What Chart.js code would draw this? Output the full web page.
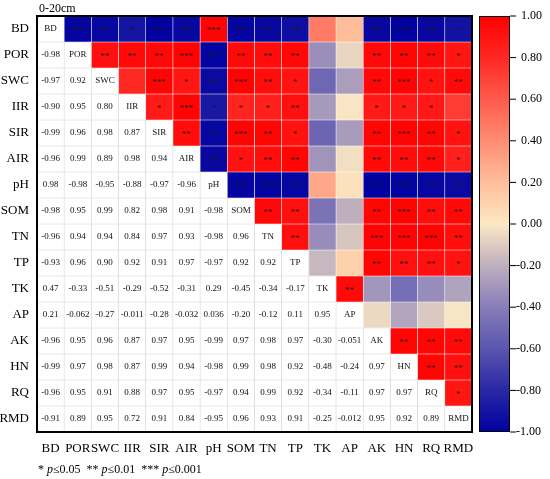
<!DOCTYPE html>
<html>
<head>
<meta charset="utf-8">
<script src="https://cdn.jsdelivr.net/npm/chart.js@4.4.1/dist/chart.umd.min.js"></script>
<style>
  html, body { margin: 0; padding: 0; background: #fff; }
  #wrap { width: 550px; height: 479px; }
</style>
</head>
<body>
<div id="wrap"><canvas id="corrChart" width="550" height="479"></canvas></div>
<script>
const vars = ['BD', 'POR', 'SWC', 'IIR', 'SIR', 'AIR', 'pH', 'SOM', 'TN', 'TP', 'TK', 'AP', 'AK', 'HN', 'RQ', 'RMD']

// lower triangle: row i holds r with columns 0..i-1
const lowerR = [
  [],
  [-0.98],
  [-0.97, 0.92],
  [-0.90, 0.95, 0.80],
  [-0.99, 0.96, 0.98, 0.87],
  [-0.96, 0.99, 0.89, 0.98, 0.94],
  [0.98, -0.98, -0.95, -0.88, -0.97, -0.96],
  [-0.98, 0.95, 0.99, 0.82, 0.98, 0.91, -0.98],
  [-0.96, 0.94, 0.94, 0.84, 0.97, 0.93, -0.98, 0.96],
  [-0.93, 0.96, 0.90, 0.92, 0.91, 0.97, -0.97, 0.92, 0.92],
  [0.47, -0.33, -0.51, -0.29, -0.52, -0.31, 0.29, -0.45, -0.34, -0.17],
  [0.21, -0.062, -0.27, -0.011, -0.28, -0.032, 0.036, -0.20, -0.12, 0.11, 0.95],
  [-0.96, 0.95, 0.96, 0.87, 0.97, 0.95, -0.99, 0.97, 0.98, 0.97, -0.30, -0.051],
  [-0.99, 0.97, 0.98, 0.87, 0.99, 0.94, -0.98, 0.99, 0.98, 0.92, -0.48, -0.24, 0.97],
  [-0.96, 0.95, 0.91, 0.88, 0.97, 0.95, -0.97, 0.94, 0.99, 0.92, -0.34, -0.11, 0.97, 0.97],
  [-0.91, 0.89, 0.95, 0.72, 0.91, 0.84, -0.95, 0.96, 0.93, 0.91, -0.25, -0.012, 0.95, 0.92, 0.89]
]

// upper triangle significance: row i holds columns i+1..15
const sigUpper = [
  ['***', '**', '*', '***', '**', '***', '***', '**', '**', '', '', '**', '***', '**', '*'],
  ['**', '**', '**', '***', '***', '**', '**', '**', '', '', '**', '**', '**', '*'],
  ['', '***', '*', '**', '***', '**', '*', '', '', '**', '***', '*', '**'],
  ['*', '***', '*', '*', '*', '**', '', '', '*', '*', '*', ''],
  ['**', '**', '***', '**', '*', '', '', '**', '***', '**', '*'],
  ['**', '*', '**', '**', '', '', '**', '**', '**', '*'],
  ['***', '***', '**', '', '', '***', '***', '**', '**'],
  ['**', '**', '', '', '**', '***', '**', '**'],
  ['**', '', '', '***', '***', '***', '**'],
  ['', '', '**', '**', '**', '*'],
  ['**', '', '', '', ''],
  ['', '', '', ''],
  ['**', '**', '**'],
  ['**', '**'],
  ['*'],
  []
]

const colorbarTicks = [1, 0.8, 0.6, 0.4, 0.2, 0, -0.2, -0.4, -0.6, -0.8, -1]

// colour ramp blue -> beige -> red
const rampStops = [
  [-1, [0, 0, 160]],
  [-0.8, [40, 40, 165]],
  [-0.6, [90, 85, 175]],
  [-0.4, [135, 125, 185]],
  [-0.2, [190, 175, 190]],
  [0, [252, 232, 195]],
  [0.2, [255, 190, 155]],
  [0.4, [255, 140, 115]],
  [0.6, [255, 90, 75]],
  [0.8, [255, 40, 35]],
  [1, [255, 0, 0]]
]

function rampColor(v) {
  for (let k = 1; k < rampStops.length; k++) {
    const [v0, c0] = rampStops[k - 1]
    const [v1, c1] = rampStops[k]
    if (v <= v1) {
      const t = (v - v0) / (v1 - v0)
      const c = c0.map((x, n) => Math.round(x + (c1[n] - x) * t))
      return `rgb(${c[0]},${c[1]},${c[2]})`
    }
  }
  return 'rgb(255,0,0)'
}

function corr(i, j) {
  if (i === j) return 1
  return i > j ? lowerR[i][j] : lowerR[j][i]
}

const serif = 'Liberation Serif'
Chart.defaults.font.family = serif
Chart.defaults.color = '#000'

// one stacked dataset per row, one bar per column
const datasets = vars.map((rowName, i) => ({
  label: rowName,
  data: vars.map(() => 1),
  backgroundColor: vars.map((_, j) => (j > i ? rampColor(corr(i, j)) : '#ffffff')),
  borderColor: vars.map((_, j) => (j > i ? 'rgba(255,255,255,0.25)' : 'rgba(205,205,205,0.8)')),
  borderWidth: 0.6,
  borderSkipped: false,
  barPercentage: 1,
  categoryPercentage: 1
}))

const cellText = {
  id: 'cellText',
  afterDatasetsDraw(chart) {
    const ctx = chart.ctx
    ctx.save()
    ctx.textAlign = 'center'
    ctx.textBaseline = 'middle'
    chart.data.datasets.forEach((ds, i) => {
      chart.getDatasetMeta(i).data.forEach((bar, j) => {
        const cx = bar.x
        const cy = (bar.y + bar.base) / 2
        if (j < i) {
          ctx.fillStyle = '#111'
          ctx.font = `9px "${serif}"`
          ctx.fillText(lowerR[i][j].toPrecision(2), cx, cy)
        } else if (j === i) {
          ctx.fillStyle = '#111'
          ctx.font = `9px "${serif}"`
          ctx.fillText(vars[i], cx, cy)
        } else {
          const s = sigUpper[i][j - i - 1]
          if (s) {
            ctx.fillStyle = '#1a1a1a'
            ctx.font = `9px "${serif}"`
            ctx.fillText(s, cx, cy + 2)
          }
        }
      })
    })
    const a = chart.chartArea
    ctx.lineWidth = 2
    ctx.strokeStyle = '#000'
    ctx.strokeRect(a.left, a.top, a.right - a.left, a.bottom - a.top)
    ctx.restore()
  },
  afterDraw(chart) {
    const ctx = chart.ctx
    const a = chart.chartArea
    ctx.save()
    // colour bar
    const x0 = 479
    const x1 = 510
    const h = a.bottom - a.top
    const grad = ctx.createLinearGradient(0, a.bottom, 0, a.top)
    rampStops.forEach(([v, c]) => grad.addColorStop((v + 1) / 2, `rgb(${c[0]},${c[1]},${c[2]})`))
    ctx.fillStyle = grad
    ctx.fillRect(x0, a.top, x1 - x0, h)
    ctx.lineWidth = 1
    ctx.strokeStyle = '#000'
    ctx.strokeRect(x0 + 0.5, a.top + 0.5, x1 - x0 - 1, h - 1)
    ctx.font = `12px "${serif}"`
    ctx.fillStyle = '#000'
    ctx.textBaseline = 'middle'
    ctx.textAlign = 'left'
    colorbarTicks.forEach(v => {
      const y = a.top + (1 - v) / 2 * h
      ctx.beginPath()
      ctx.moveTo(x1, y)
      ctx.lineTo(x1 + 6, y)
      ctx.stroke()
      const txt = v.toFixed(2)
      ctx.fillText(txt, v < 0 ? 516 : 521, y)
    })
    // title
    ctx.font = `12px "${serif}"`
    ctx.textBaseline = 'alphabetic'
    ctx.fillText('0-20cm', 39, 12)
    // significance note
    const parts = [
      ['* ', false], ['p', true], ['\u22640.05  ** ', false], ['p', true],
      ['\u22640.01  *** ', false], ['p', true], ['\u22640.001', false]
    ]
    let x = 38
    parts.forEach(([t, it]) => {
      ctx.font = `${it ? 'italic ' : ''}12px "${serif}"`
      ctx.fillText(t, x, 473)
      x += ctx.measureText(t).width
    })
    ctx.restore()
  }
}

new Chart(document.getElementById('corrChart'), {
  type: 'bar',
  data: { labels: vars, datasets },
  options: {
    responsive: false,
    animation: false,
    devicePixelRatio: 1,
    layout: { padding: { top: 16, right: 78, left: 0, bottom: 0 } },
    plugins: { legend: { display: false }, tooltip: { enabled: false } },
    scales: {
      x: {
        stacked: true,
        grid: { display: false, drawTicks: false },
        border: { display: false },
        ticks: { font: { size: 13 }, color: '#000', padding: 9, maxRotation: 0, autoSkip: false },
        afterFit(s) { s.height = 47 }
      },
      y: {
        type: 'linear',
        stacked: true,
        reverse: true,
        min: 0,
        max: 16,
        grid: { display: false, drawTicks: false },
        border: { display: false },
        ticks: {
          font: { size: 13 },
          color: '#000',
          padding: 8,
          autoSkip: false,
          callback: (v, i) => vars[i]
        },
        afterBuildTicks(s) { s.ticks = vars.map((_, i) => ({ value: i + 0.5 })) },
        afterFit(s) { s.width = 37 }
      }
    }
  },
  plugins: [cellText]
})
</script>
</body>
</html>
